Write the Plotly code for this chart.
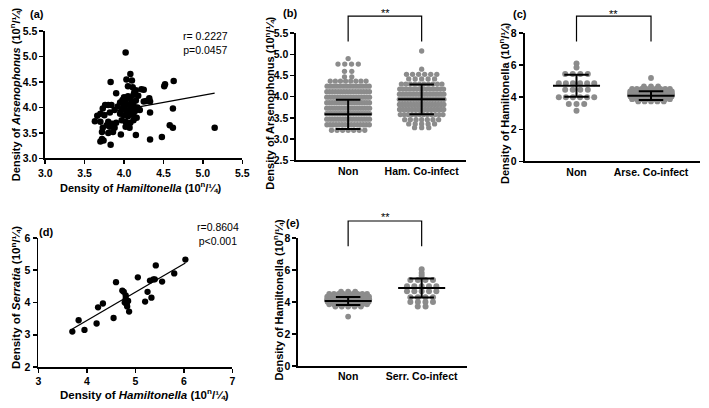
import numpy as np
import plotly.graph_objects as go

W, H = 709, 408
FONT = "Liberation Sans"
BLACK = "#000000"
GRAY = "#8c8c8c"

# ---------------- data ----------------
# (a) Hamiltonella vs Arsenophonus density
a_ham = [4.02, 3.83, 4.08, 4.03, 4.10, 4.05, 4.11, 3.90, 4.13, 4.15, 4.22, 4.25,
         4.52, 4.51, 4.63, 4.00, 4.05, 3.98, 4.08, 4.18, 4.12,
         3.95, 4.02, 4.10, 4.15, 4.28, 4.32, 4.33, 4.25,
         3.80, 3.84, 3.76, 3.92, 4.00, 4.05, 4.08, 4.12, 4.17,
         3.73, 3.88, 3.97, 4.02, 4.06, 4.10, 4.14, 4.20, 4.62, 4.33,
         3.70, 3.66, 3.75, 3.82, 3.95, 4.00, 4.05, 4.12, 4.16, 4.08,
         3.63, 3.70, 3.80, 3.85, 3.90, 3.97, 4.02, 4.08, 4.12,
         3.73, 3.78, 3.82, 3.88, 4.02, 4.07, 4.58, 4.62, 5.15,
         3.72, 3.80, 3.86, 3.96, 4.15, 4.48, 3.72, 3.70, 3.74, 4.33, 3.83]
a_ars = [5.08, 4.50, 4.66, 4.55, 4.53, 4.42, 4.40, 4.28, 4.30, 4.34, 4.36, 4.35,
         4.46, 4.42, 4.52, 4.20, 4.22, 4.15, 4.18, 4.23, 4.25,
         4.10, 4.12, 4.10, 4.14, 4.13, 4.18, 4.12, 4.12,
         4.05, 4.05, 4.05, 4.02, 4.04, 4.06, 4.00, 4.05, 4.00,
         3.98, 3.95, 3.96, 3.95, 3.92, 3.97, 3.93, 3.95, 3.98, 3.90,
         3.88, 3.84, 3.85, 3.90, 3.88, 3.85, 3.83, 3.85, 3.80, 3.88,
         3.73, 3.72, 3.72, 3.68, 3.70, 3.75, 3.72, 3.70, 3.75,
         3.60, 3.65, 3.62, 3.60, 3.62, 3.60, 3.65, 3.60, 3.60,
         3.52, 3.50, 3.52, 3.47, 3.46, 3.42, 3.38, 3.33, 3.35, 3.37, 3.27]
a_fit = (0.28, 2.84)            # slope, intercept of drawn regression line
a_stats = ["r= 0.2227", "p=0.0457"]

# (b) Arsenophonus density by group (row levels and dot counts)
b_categories = ["Non", "Ham. Co-infect"]
b_non_levels = [4.90, 4.77, 4.60, 4.47, 4.37, 4.25, 4.12, 3.99, 3.86, 3.73, 3.60, 3.47, 3.34, 3.21]
b_non_counts = [1, 4, 2, 2, 8, 14, 16, 17, 17, 18, 18, 17, 15, 7]
b_ham_levels = [5.08, 4.65, 4.53, 4.42, 4.30, 4.18, 4.06, 3.94, 3.82, 3.70, 3.58, 3.46, 3.36, 3.27]
b_ham_counts = [1, 1, 6, 5, 10, 14, 16, 17, 16, 15, 12, 7, 5, 3]
b_means = [3.585, 3.94]
b_sds = [0.345, 0.35]

# (c) Hamiltonella density by group
c_categories = ["Non", "Arse. Co-infect"]
c_non_levels = [6.10, 5.86, 5.45, 4.88, 4.47, 4.00, 3.58, 3.15]
c_non_counts = [1, 1, 4, 6, 4, 6, 3, 1]
c_ars_levels = [5.20, 4.68, 4.52, 4.36, 4.20, 4.04, 3.88, 3.74]
c_ars_counts = [1, 3, 9, 13, 14, 12, 9, 5]
c_means = [4.72, 4.10]
c_sds = [0.69, 0.27]

# (d) Hamiltonella vs Serratia density
d_ham = [3.70, 3.83, 3.95, 4.20, 4.23, 4.33, 4.55, 4.60, 4.73, 4.76, 4.80, 4.80, 4.78, 4.82,
         4.83, 4.85, 4.87, 5.05, 5.20, 5.25, 5.30, 5.33, 5.37, 5.40, 5.42, 5.55, 5.80, 6.03]
d_ser = [3.10, 3.45, 3.15, 3.35, 3.85, 3.97, 3.52, 4.63, 4.37, 4.33, 4.22, 4.12, 4.00, 3.95,
         3.88, 4.05, 3.72, 4.78, 4.03, 4.33, 4.68, 4.15, 4.72, 4.72, 5.15, 4.65, 4.90, 5.33]
d_fit = (0.878, -0.07)
d_stats = ["r=0.8604", "p<0.001"]

# (e) Hamiltonella density by group
e_categories = ["Non", "Serr. Co-infect"]
e_non_levels = [4.65, 4.50, 4.34, 4.18, 4.02, 3.86, 3.72, 3.09]
e_non_counts = [3, 9, 13, 14, 12, 9, 5, 1]
e_ser_levels = [6.05, 5.82, 5.64, 5.38, 4.98, 4.67, 4.30, 4.00, 3.72]
e_ser_counts = [1, 1, 1, 4, 5, 5, 4, 4, 2]
e_means = [4.07, 4.88]
e_sds = [0.25, 0.59]

UNIT = " (10<sup>n</sup>/¼)"

# ---------------- layout geometry (pixels) ----------------
panels = {
    # name: (x0, x1, y0_top, y1_bottom, xrange, yrange)
    "a": (39, 240, 26, 157, [3, 5.5], [3, 5.5]),
    "b": (295, 468, 28, 159, [-0.707, 1.6], [2.5, 5.5]),
    "c": (528, 707, 28, 160, [-0.697, 1.658], [0, 8]),
    "d": (32, 230, 239, 372, [3, 7], [2, 6]),
    "e": (297, 469, 239, 371, [-0.68, 1.613], [0, 8]),
}
axis_ids = {"a": "", "b": "2", "c": "3", "d": "4", "e": "5"}


def ppu_x(p):
    x0, x1, _, _, xr, _ = panels[p]
    return (x1 - x0) / (xr[1] - xr[0])


def x_to_px(p, v):
    x0, _, _, _, xr, _ = panels[p]
    return x0 + (v - xr[0]) * ppu_x(p)


def rows(levels, counts, center, ppu, sp_px=7.5, cap_px=44):
    xs, ys = [], []
    for lv, n in zip(levels, counts):
        if n == 1:
            offs = [0.0]
        else:
            wd = cap_px * np.tanh((n - 1) * sp_px / cap_px)
            offs = np.linspace(-wd / 2, wd / 2, n)
        xs += [center + o / ppu for o in offs]
        ys += [lv] * n
    return xs, ys


fig = go.Figure()
axis_font = dict(family=FONT, size=10.5, color=BLACK, weight="bold")


def ax(p, kind):
    return kind + axis_ids[p]


# --- scatter panels ---
for p, xs, ys, fit in [("a", a_ham, a_ars, a_fit), ("d", d_ham, d_ser, d_fit)]:
    fig.add_trace(go.Scatter(x=xs, y=ys, mode="markers",
                             marker=dict(color=BLACK, size=6.5 if p == "a" else 6.3),
                             xaxis=ax(p, "x"), yaxis=ax(p, "y"), showlegend=False,
                             cliponaxis=False, hoverinfo="skip"))
    lx = [min(xs), max(xs)]
    fig.add_trace(go.Scatter(x=lx, y=[fit[0] * v + fit[1] for v in lx], mode="lines",
                             line=dict(color=BLACK, width=1.3), hoverinfo="skip",
                             xaxis=ax(p, "x"), yaxis=ax(p, "y"), showlegend=False))

# --- dot plot panels ---
groups = {
    "b": [(b_non_levels, b_non_counts, 7.5, 44, 5.3), (b_ham_levels, b_ham_counts, 7.5, 46, 5.3)],
    "c": [(c_non_levels, c_non_counts, 8.0, 70, 6.0), (c_ars_levels, c_ars_counts, 7.5, 44, 5.8)],
    "e": [(e_non_levels, e_non_counts, 7.5, 44, 5.8), (e_ser_levels, e_ser_counts, 8.0, 70, 6.0)],
}
stats = {"b": (b_means, b_sds), "c": (c_means, c_sds), "e": (e_means, e_sds)}
shapes = []

for p, gl in groups.items():
    ppu = ppu_x(p)
    for gi, (lv, cn, sp, cap, msz) in enumerate(gl):
        xs, ys = rows(lv, cn, gi, ppu, sp, cap)
        fig.add_trace(go.Scatter(x=xs, y=ys, mode="markers", hoverinfo="skip",
                                 marker=dict(color=GRAY, size=msz),
                                 xaxis=ax(p, "x"), yaxis=ax(p, "y"), showlegend=False))
    means, sds = stats[p]
    hm = 24 / ppu
    hc = 12.5 / ppu
    lx, ly = [], []
    for gi, (m, s) in enumerate(zip(means, sds)):
        lx += [gi - hm, gi + hm, None, gi, gi, None, gi - hc, gi + hc, None, gi - hc, gi + hc, None]
        ly += [m, m, None, m - s, m + s, None, m + s, m + s, None, m - s, m - s, None]
    fig.add_trace(go.Scatter(x=lx, y=ly, mode="lines", line=dict(color=BLACK, width=2),
                             hoverinfo="skip",
                             xaxis=ax(p, "x"), yaxis=ax(p, "y"), showlegend=False))
    # significance bracket (paper coordinates, above the plot area)
    _, _, y0, _, _, _ = panels[p]
    xl, xr_ = x_to_px(p, 0) / W, x_to_px(p, 1) / W
    yl, yt = 1 - (y0 + 8.5) / H, 1 - (y0 - 17.5) / H
    shapes.append(dict(type="path", xref="paper", yref="paper",
                       path=f"M{xl},{yl} L{xl},{yt} L{xr_},{yt} L{xr_},{yl}",
                       line=dict(color=BLACK, width=1.2)))

# --- axes ---
cats = {"b": b_categories, "c": c_categories, "e": e_categories}
dticks = {"a": (0.5, 0.5), "d": (1, 1), "b": (None, 0.5), "c": (None, 2), "e": (None, 2)}
layout = {}
for p, (x0, x1, y0, y1, xr, yr) in panels.items():
    xid, yid = axis_ids[p], axis_ids[p]
    common = dict(showline=True, linecolor=BLACK, linewidth=1.8, showgrid=False,
                  zeroline=False, tickfont=axis_font, ticks="outside", ticklen=4,
                  tickwidth=1.5, tickcolor=BLACK, fixedrange=True)
    xa = dict(common, domain=[x0 / W, x1 / W], range=xr, anchor="y" + yid)
    if p in cats:
        xa.update(tickmode="array", tickvals=[0, 1], ticktext=cats[p], ticks="")
    else:
        xa.update(dtick=dticks[p][0], tick0=xr[0],
                  tickformat=".1f" if p == "a" else "d")
    ya = dict(common, domain=[1 - y1 / H, 1 - y0 / H], range=yr, anchor="x" + xid,
              dtick=dticks[p][1], tick0=yr[0],
              tickformat=".1f" if p in ("a", "b") else "d")
    layout["xaxis" + xid] = xa
    layout["yaxis" + yid] = ya
fig.update_layout(**layout)

# --- text ---
ann = []


def text(px, py, s, size=11, bold=True, angle=0, xanchor="center", yanchor="middle"):
    ann.append(dict(x=px / W, y=1 - py / H, xref="paper", yref="paper", text=s,
                    showarrow=False, textangle=angle, xanchor=xanchor, yanchor=yanchor,
                    font=dict(family=FONT, size=size, color=BLACK,
                              weight="bold" if bold else "normal")))


for lab, (px, py) in {"(a)": (31, 8), "(b)": (289, 7), "(c)": (523, 8),
                      "(d)": (40, 233), "(e)": (292, 224)}.items():
    text(px, py, lab, size=11)

for px, py in [(386, 7), (619, 8), (386, 217)]:
    text(px, py, "**", size=11, bold=False)

text(177, 38, "<br>".join(a_stats), size=10.5, bold=False, xanchor="left")
text(192, 235, "<br>".join(d_stats), size=10.5, bold=False, xanchor="left")

text(137, 186, "Density of <i>Hamiltonella</i>" + UNIT, size=11)
text(9, 91, "Density of <i>Arsenophonus</i>" + UNIT, size=11, angle=-90)
text(268, 100, "Density of Arsenophonus" + UNIT, size=11, angle=-90)
text(507, 100, "Density of Hamiltonella" + UNIT, size=11, angle=-90)
text(140, 400, "Density of <i>Hamiltonella</i>" + UNIT, size=11.5)
text(9, 300, "Density of <i>Serratia</i>" + UNIT, size=11.5, angle=-90)
text(277, 303, "Density of Hamiltonella" + UNIT, size=11, angle=-90)

fig.update_layout(annotations=ann, shapes=shapes, width=W, height=H,
                  margin=dict(l=0, r=0, t=0, b=0),
                  paper_bgcolor="white", plot_bgcolor="white",
                  font=dict(family=FONT, color=BLACK), hovermode=False)

fig.write_html("out.html", config={"displayModeBar": False, "staticPlot": True},
               post_script="document.body.style.margin='0px';document.body.style.padding='0px';")
